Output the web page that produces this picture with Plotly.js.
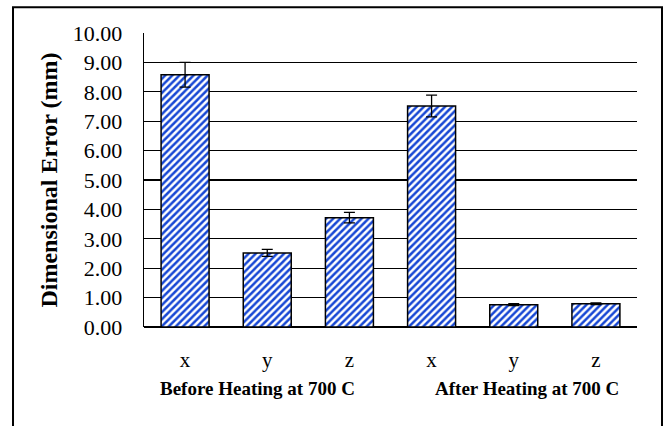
<!DOCTYPE html>
<html>
<head>
<meta charset="utf-8">
<script src="https://cdn.plot.ly/plotly-3.0.1.min.js"></script>
<style>
  html, body { margin: 0; padding: 0; background: #fff; }
  #chart { width: 666px; height: 426px; }
</style>
</head>
<body>
<div id="chart"></div>
<script>
// Dimensional error of printed parts along each axis, before and after heating
const groups = ["Before Heating at 700 C", "After Heating at 700 C"];
const axisLabels = ["x", "y", "z", "x", "y", "z"];
const groupOfBar = [0, 0, 0, 1, 1, 1];
const meanError = [8.58, 2.52, 3.72, 7.52, 0.76, 0.79];
const stdError = [0.42, 0.12, 0.18, 0.37, 0.03, 0.03];
const yTicks = [0, 1, 2, 3, 4, 5, 6, 7, 8, 9, 10];

const positions = axisLabels.map((_, i) => i);
const serif = "Liberation Serif, Times New Roman, serif";

const trace = {
  type: "bar",
  x: positions,
  y: meanError,
  error_y: {
    type: "data",
    array: stdError,
    visible: true,
    color: "#000",
    thickness: 1.3,
    width: 5.5
  },
  marker: {
    color: "#ffffff",
    line: { color: "#000", width: 1.5 },
    pattern: {
      shape: "/",
      fgcolor: "#1747d4",
      bgcolor: "#ffffff",
      size: 5,
      solidity: 0.5
    }
  },
  hoverinfo: "skip"
};

// centre of each group's label under the axis (paper fraction)
const groupLabelX = [0.231, 0.777];

const layout = {
  width: 666,
  height: 426,
  margin: { l: 144, r: 29, t: 33, b: 99 },
  paper_bgcolor: "#fff",
  plot_bgcolor: "#fff",
  showlegend: false,
  bargap: 0.416,
  font: { family: serif, color: "#000" },
  xaxis: {
    range: [-0.5, axisLabels.length - 0.5],
    tickmode: "array",
    tickvals: positions,
    ticktext: axisLabels,
    tickfont: { family: serif, size: 21, color: "#000" },
    ticks: "outside",
    ticklen: 14,
    tickcolor: "rgba(0,0,0,0)",
    showgrid: false,
    zeroline: false,
    showline: false,
    fixedrange: true
  },
  yaxis: {
    range: [0, 10],
    tickmode: "array",
    tickvals: yTicks,
    ticktext: yTicks.map(v => v.toFixed(2)),
    tickfont: { family: serif, size: 22, color: "#000" },
    ticks: "outside",
    ticklen: 16,
    tickcolor: "rgba(0,0,0,0)",
    showgrid: true,
    gridcolor: "#000",
    gridwidth: 1.2,
    zeroline: true,
    zerolinecolor: "#000",
    zerolinewidth: 1.5,
    showline: true,
    linecolor: "#000",
    linewidth: 1.3,
    title: {
      text: "<b>Dimensional Error (mm)</b>",
      font: { family: serif, size: 24, color: "#000" },
      standoff: 8
    },
    fixedrange: true
  },
  annotations: groups.map((g, k) => ({
    text: "<b>" + g + "</b>",
    xref: "paper",
    yref: "paper",
    x: groupLabelX[k],
    y: -0.21,
    xanchor: "center",
    yanchor: "middle",
    showarrow: false,
    font: { family: serif, size: 19, color: "#000" }
  })),
  shapes: [{
    type: "rect",
    xref: "paper",
    yref: "paper",
    x0: -0.2657, x1: 1.0507,
    y0: -0.36, y1: 1.088,
    line: { color: "#000", width: 2 },
    fillcolor: "rgba(0,0,0,0)",
    layer: "below"
  }]
};

Plotly.newPlot("chart", [trace], layout, { displayModeBar: false, staticPlot: true });
</script>
</body>
</html>
